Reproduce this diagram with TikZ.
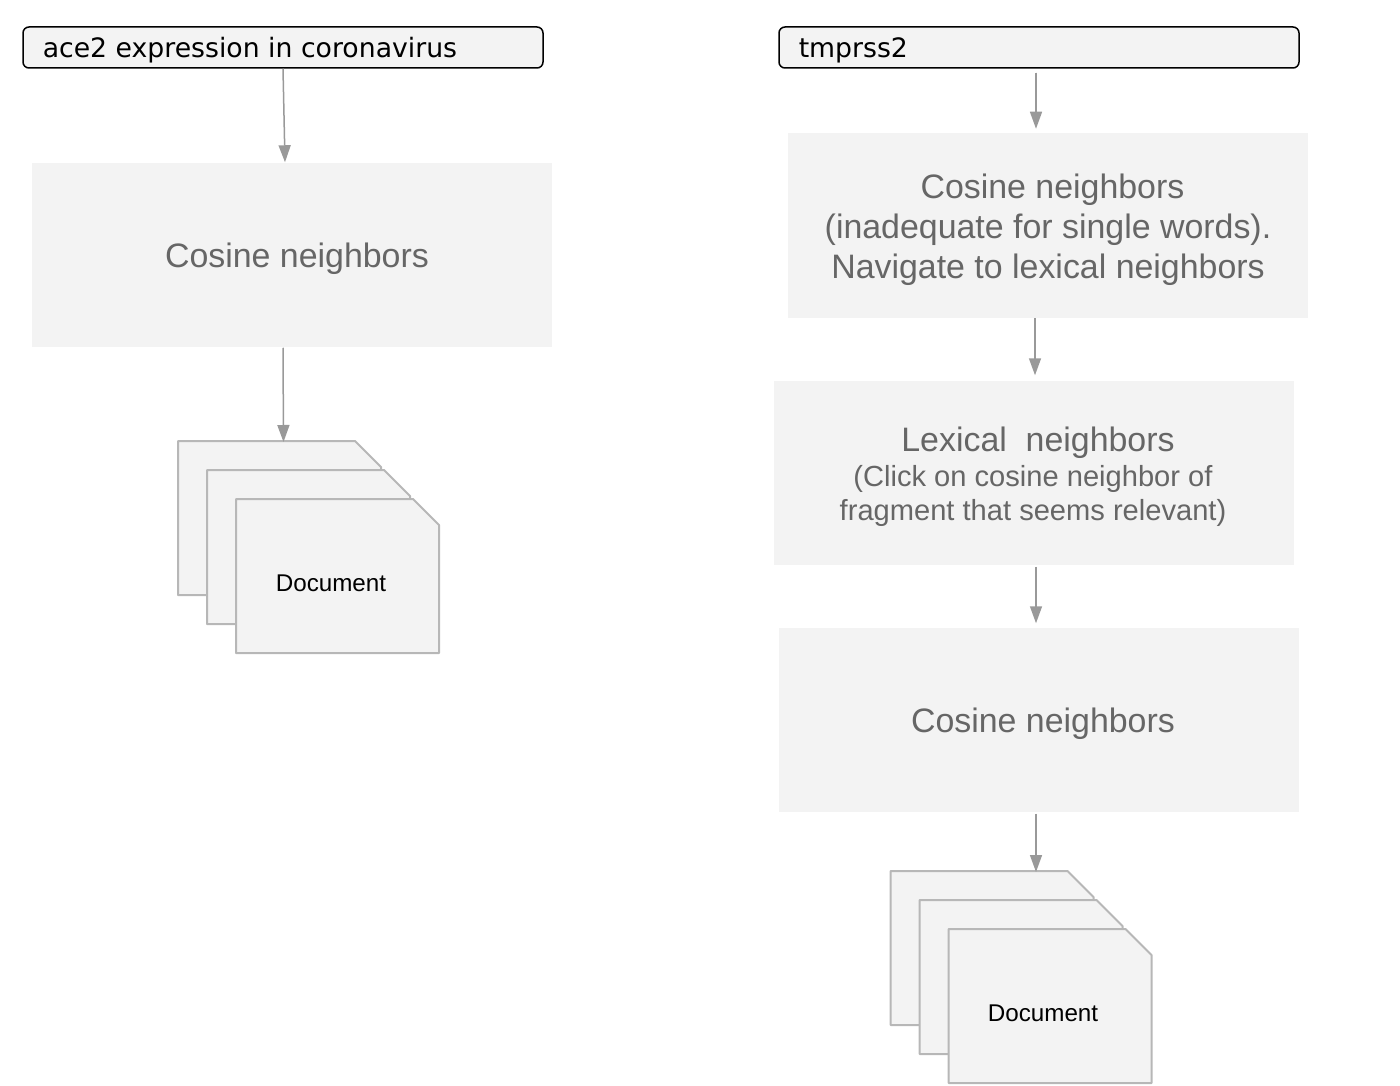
\documentclass[tikz,border=0pt]{standalone}
\usepackage{fontspec}
\setmainfont{Liberation Sans}
\newfontfamily\queryfont{DejaVu Sans}
\usetikzlibrary{arrows.meta}
\definecolor{boxfill}{HTML}{F3F3F3}
\definecolor{boxtext}{HTML}{666666}
\definecolor{linegray}{HTML}{999999}
\definecolor{pageline}{HTML}{B7B7B7}
\newcommand{\docpage}[2]{
    \node[pagebox] (#1) at (#2) {};
    \draw[pageedge] (#1.north west) -- ([xshift=-26pt]#1.north east) -- ([yshift=-26pt]#1.north east) -- (#1.south east) -- (#1.south west) -- cycle;
}

\begin{document}
\begin{tikzpicture}[x=1pt,y=-1pt,>={Triangle[width=12pt,length=17pt]},line width=1.5pt]
    \tikzstyle{query}=[draw=black,fill=boxfill,rounded corners=6pt,line width=1.5pt,minimum width=520pt,minimum height=41pt,inner sep=0pt]
    \tikzstyle{panel}=[fill=boxfill,minimum width=520pt,minimum height=184pt,inner sep=0pt]
    \tikzstyle{pagebox}=[minimum width=201.5pt,minimum height=152.5pt,inner sep=0pt]
    \tikzstyle{pageedge}=[draw=pageline,fill=boxfill,line width=2pt,line join=round]
    \tikzstyle{flow}=[->,draw=linegray,fill=linegray]
    \tikzstyle{querytext}=[font=\queryfont\fontsize{26.7}{32}\selectfont,text=black,inner sep=0pt]
    \tikzstyle{big}=[font=\fontsize{33.9}{40}\selectfont,text=boxtext,inner sep=0pt,align=center]
    \tikzstyle{small}=[font=\fontsize{29.1}{34.5}\selectfont,text=boxtext,inner sep=0pt,align=center]
    \tikzstyle{doc}=[font=\fontsize{24.2}{30}\selectfont,text=black,inner sep=0pt]

    \useasboundingbox (0,0) rectangle (1400,1086);

    % Left column
    \node[query] (Q-1) at (283,47.5) {};
    \node[querytext,anchor=base west] (QT-1) at (42,58) {ace2 expression in coronavirus};
    \node[panel] (C-1) at (292,255) {};
    \node[big] (CT-1) at (297,259) {Cosine neighbors};
    \docpage{P-11}{279.5,518}
    \docpage{P-12}{308.5,547}
    \docpage{P-13}{337.5,576}
    \node[doc] (DT-1) at (331,583) {Document};

    % Right column
    \node[query] (Q-2) at (1039,47.5) {};
    \node[querytext,anchor=base west] (QT-2) at (798,58) {tmprss2};
    \node[panel] (C-2) at (1048,225.5) {};
    \node[big] (CT-2) at (1048,230) {\hspace*{9pt}Cosine neighbors\\(inadequate for single words).\\Navigate to lexical neighbors};
    \node[panel] (L) at (1034,473) {};
    \node[big] (LT-1) at (1038,442.5) {Lexical~~neighbors};
    \node[small] (LT-2) at (1033,496) {(Click on cosine neighbor of\\fragment that seems relevant)};
    \node[panel] (C-3) at (1039,720) {};
    \node[big] (CT-3) at (1043,724) {Cosine neighbors};
    \docpage{P-21}{992,948}
    \docpage{P-22}{1021,977}
    \docpage{P-23}{1050,1006}
    \node[doc] (DT-2) at (1043,1013) {Document};

    % Arrows
    \draw[flow] (Q-1.south) -- ([xshift=-7pt]C-1.north);
    \draw[flow] ([xshift=-9pt]C-1.south) -- ([xshift=4pt,yshift=-1pt]P-11.north);
    \draw[flow] ([xshift=-3pt,yshift=-4pt]Q-2.south) -- ([xshift=-12pt,yshift=4pt]C-2.north);
    \draw[flow] ([xshift=-13pt]C-2.south) -- ([xshift=1pt,yshift=5pt]L.north);
    \draw[flow] ([xshift=2pt,yshift=-1pt]L.south) -- ([xshift=-3pt,yshift=4pt]C-3.north);
    \draw[flow] ([xshift=-3pt,yshift=-1pt]C-3.south) -- ([xshift=44pt,yshift=-1pt]P-21.north);
\end{tikzpicture}
\end{document}
